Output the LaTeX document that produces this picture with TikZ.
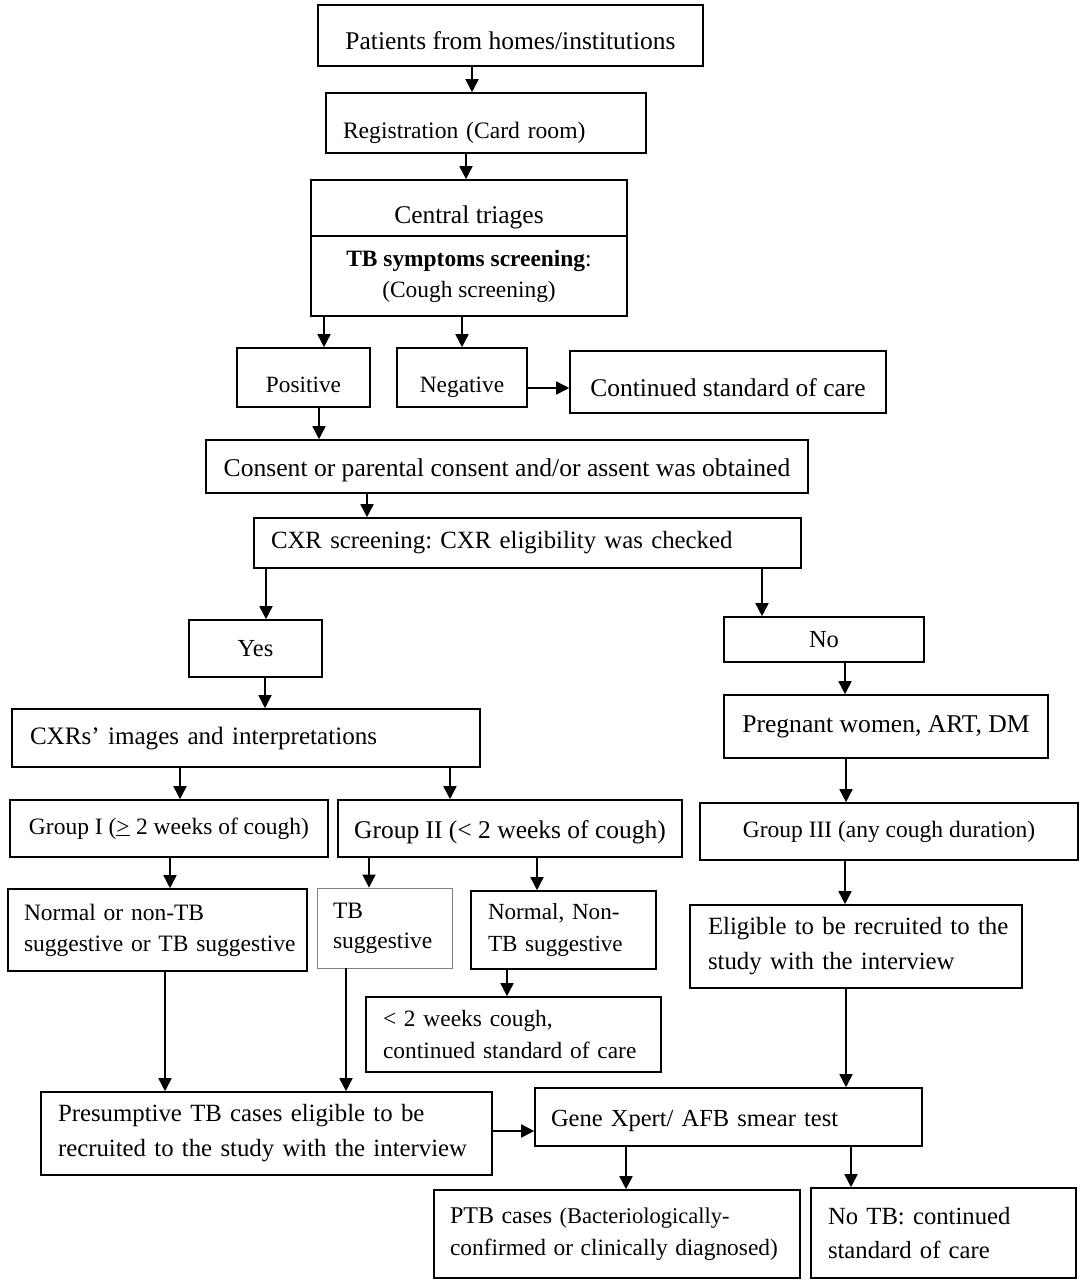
\documentclass[tikz,border=0pt]{standalone}
\usepackage{fontspec}
\setmainfont{Liberation Serif}
\usetikzlibrary{arrows.meta}
\newcommand{\fs}[1]{\fontsize{#1}{33}\selectfont}
\frenchspacing
\begin{document}
\begin{tikzpicture}[x=1pt,y=-1pt,
  box/.style={draw, line width=1.6pt, inner sep=0pt, align=center, font=\fs{24.5}},
  lbox/.style={box, align=left},
  th/.style={text height=#1, text depth=0pt},
  arr/.style={-{Triangle[width=13pt,length=13pt]}, line width=1.6pt}]
\useasboundingbox (0,0) rectangle (1084,1285);
\fill[white] (0,0) rectangle (1084,1285);

\node[box, minimum width=385, minimum height=61, font=\fs{25.5}, th=27pt] (pat) at (510.5,35.5) {Patients from homes/institutions};
\node[lbox, minimum width=320, minimum height=60, text width=286, font=\fs{23.6}, th=30pt] (reg) at (486,123) {\mbox{Registration (Card room)}};
\node[box, minimum width=316, minimum height=56, font=\fs{25.5}, th=30pt] (ct1) at (469,208) {Central triages};
\node[box, minimum width=316, minimum height=80, font=\fontsize{23.4}{31}\selectfont] (ct2) at (469,276) {\textbf{TB symptoms screening}:\\(Cough screening)};
\node[box, minimum width=133, minimum height=59, font=\fs{23.3}, th=29pt] (pos) at (303.5,377.5) {Positive};
\node[box, minimum width=130, minimum height=59, font=\fs{23.4}, th=29pt] (neg) at (462,377.5) {Negative};
\node[box, minimum width=316, minimum height=62, font=\fs{25.5}, th=28pt] (cont) at (728,382) {Continued standard of care};
\node[box, minimum width=602, minimum height=53, font=\fs{25.6}, th=19pt] (cons) at (507,466.5) {Consent or parental consent and/or assent was obtained};
\node[lbox, minimum width=547, minimum height=50, text width=513, font=\fs{24.8}] (cxr) at (527.5,543) {\mbox{CXR screening: CXR eligibility was checked}};
\node[box, minimum width=133, minimum height=57] (yes) at (255.5,648.5) {Yes};
\node[box, minimum width=200, minimum height=45] (no) at (824,639.5) {No};
\node[lbox, minimum width=468, minimum height=58, text width=432, font=\fs{25.1}] (img) at (246,738) {\mbox{CXRs’ images and interpretations}};
\node[box, minimum width=324, minimum height=63, font=\fs{25.6}] (preg) at (886,726.5) {Pregnant women, ART, DM};
\node[box, minimum width=318, minimum height=57, font=\fs{23.5}] (g1) at (169,828.5) {Group I (\underline{>}\kern0.5pt\ 2 weeks of cough)};
\node[box, minimum width=344, minimum height=57, font=\fs{25.5}, th=19pt] (g2) at (510,828.5) {Group II (< 2 weeks of cough)};
\node[box, minimum width=378, minimum height=57, font=\fs{23.5}] (g3) at (889,831.5) {Group III (any cough duration)};
\node[lbox, minimum width=299, minimum height=82, text width=267, font=\fontsize{23.5}{31}\selectfont] (nor1) at (157.5,930) {\mbox{Normal or non-TB}\\\mbox{suggestive or TB suggestive}};
\node[lbox, draw=gray, line width=0.8pt, minimum width=135, minimum height=80, text width=103, font=\fontsize{23.5}{30}\selectfont] (tbs) at (384.5,928) {TB\\\mbox{suggestive}};
\node[lbox, minimum width=185, minimum height=78, text width=151, font=\fontsize{23.1}{32}\selectfont] (nor2) at (563.5,930) {\mbox{Normal, Non-}\\\mbox{TB suggestive}};
\node[lbox, minimum width=295, minimum height=75, text width=261, font=\fontsize{23.4}{32}\selectfont] (lt2) at (513.5,1034.5) {\mbox{< 2 weeks cough,}\\\mbox{continued standard of care}};
\node[lbox, minimum width=332, minimum height=83, text width=296, font=\fontsize{24.8}{35}\selectfont] (elig) at (856,946.5) {\mbox{Eligible to be recruited to the}\\\mbox{study with the interview}};
\node[lbox, minimum width=451, minimum height=83, text width=417, font=\fontsize{24.8}{35}\selectfont] (pres) at (266.5,1133.5) {\mbox{Presumptive TB cases eligible to be}\\\mbox{recruited to the study with the interview}};
\node[lbox, minimum width=387, minimum height=58, text width=355, th=18pt] (gene) at (728.5,1117) {\mbox{Gene Xpert/ AFB smear test}};
\node[lbox, minimum width=366, minimum height=88, text width=334, font=\fontsize{22.5}{32}\selectfont] (ptb) at (617,1234) {\mbox{{\fs{24}PTB cases} (Bacteriologically-}\\\mbox{\fs{23.4}confirmed or clinically diagnosed)}};
\node[lbox, minimum width=265, minimum height=90, text width=231, font=\fontsize{24.7}{34}\selectfont] (notb) at (943.5,1233) {\mbox{No TB: continued}\\\mbox{standard of care}};

\draw[arr] (pat.south -| 472,0) -- (reg.north -| 472,0);
\draw[arr] (reg.south -| 466,0) -- (ct1.north -| 466,0);
\draw[arr] (ct2.south -| 324,0) -- (pos.north -| 324,0);
\draw[arr] (ct2.south -| 462,0) -- (neg.north -| 462,0);
\draw[arr] (0,388 -| neg.east) -- (0,388 -| cont.west);
\draw[arr] (pos.south -| 319,0) -- (cons.north -| 319,0);
\draw[arr] (cons.south -| 367,0) -- (cxr.north -| 367,0);
\draw[arr] (cxr.south -| 266,0) -- (yes.north -| 266,0);
\draw[arr] (cxr.south -| 762,0) -- (no.north -| 762,0);
\draw[arr] (yes.south -| 265,0) -- (img.north -| 265,0);
\draw[arr] (no.south -| 845,0) -- (preg.north -| 845,0);
\draw[arr] (img.south -| 180,0) -- (g1.north -| 180,0);
\draw[arr] (img.south -| 450,0) -- (g2.north -| 450,0);
\draw[arr] (preg.south -| 846,0) -- (g3.north -| 846,0);
\draw[arr] (g1.south -| 170,0) -- (nor1.north -| 170,0);
\draw[arr] (g2.south -| 369,0) -- (tbs.north -| 369,0);
\draw[arr] (g2.south -| 537,0) -- (nor2.north -| 537,0);
\draw[arr] (nor2.south -| 507,0) -- (lt2.north -| 507,0);
\draw[arr] (g3.south -| 845,0) -- (elig.north -| 845,0);
\draw[arr] (nor1.south -| 165,0) -- (pres.north -| 165,0);
\draw[arr] (tbs.south -| 346,0) -- (pres.north -| 346,0);
\draw[arr] (elig.south -| 846,0) -- (gene.north -| 846,0);
\draw[arr] (0,1131 -| pres.east) -- (0,1131 -| gene.west);
\draw[arr] (gene.south -| 626,0) -- (ptb.north -| 626,0);
\draw[arr] (gene.south -| 851,0) -- (notb.north -| 851,0);
\end{tikzpicture}
\end{document}
